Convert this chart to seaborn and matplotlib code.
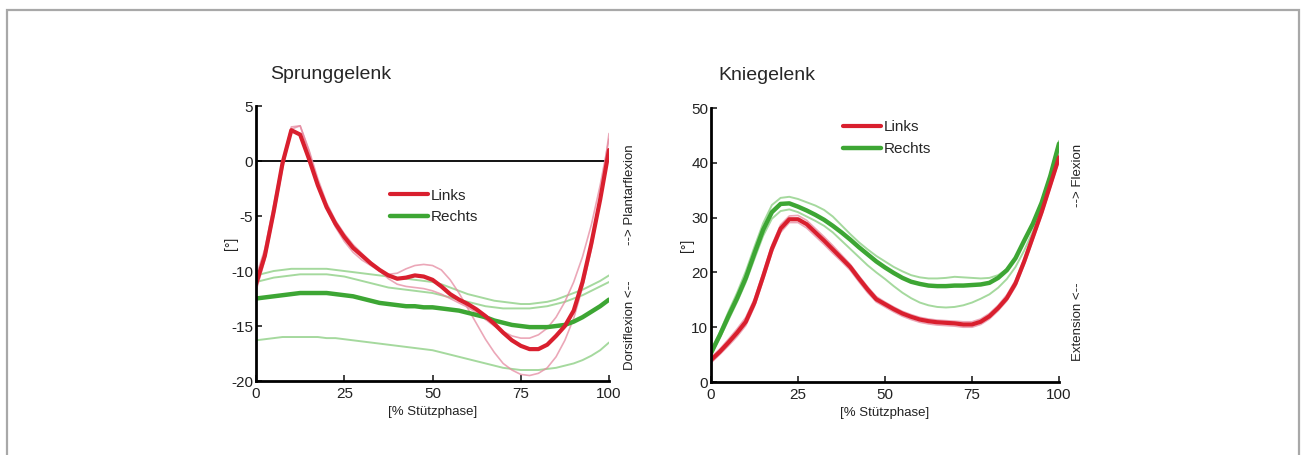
import numpy as np
import pandas as pd
import seaborn as sns
from matplotlib import pyplot as plt
from matplotlib.patches import Rectangle

# % Stuetzphase, gemeinsame x-Werte
stuetz = [0, 2.5, 5, 7.5, 10, 12.5, 15, 17.5, 20, 22.5, 25, 27.5, 30, 32.5, 35, 37.5, 40,
          42.5, 45, 47.5, 50, 52.5, 55, 57.5, 60, 62.5, 65, 67.5, 70, 72.5, 75, 77.5, 80,
          82.5, 85, 87.5, 90, 92.5, 95, 97.5, 100]

# Sprunggelenk
sp_links = [-11.2, -8.6, -4.6, -0.2, 2.8, 2.4, 0.2, -2.2, -4.2, -5.7, -6.9, -7.9, -8.6, -9.3,
            -9.9, -10.4, -10.7, -10.6, -10.4, -10.5, -10.8, -11.4, -12.1, -12.6, -13.0, -13.5,
            -14.1, -14.8, -15.6, -16.3, -16.8, -17.1, -17.1, -16.7, -15.9, -15.0, -13.6, -11.0,
            -7.5, -3.5, 1.0]
sp_links_t1 = [-11.8, -9.0, -5.0, -0.7, 2.9, 3.2, 0.9, -2.0, -4.3, -6.0, -7.3, -8.3, -9.0, -9.5,
               -10.0, -10.3, -10.2, -9.8, -9.5, -9.4, -9.5, -9.9, -10.8, -12.0, -13.4, -14.8,
               -16.2, -17.4, -18.4, -19.0, -19.4, -19.5, -19.3, -18.8, -17.8, -16.3, -14.3,
               -11.5, -8.0, -3.5, 2.5]
sp_links_t2 = [-10.5, -8.0, -4.0, 0.0, 3.1, 3.2, 1.0, -1.6, -3.8, -5.4, -6.6, -7.6, -8.4, -9.2,
               -10.0, -10.7, -11.2, -11.4, -11.5, -11.6, -11.8, -12.1, -12.5, -12.9, -13.3,
               -13.8, -14.4, -15.0, -15.5, -15.9, -16.1, -16.1, -15.8, -15.2, -14.2, -12.8,
               -11.0, -8.7, -5.8, -2.2, 2.0]
sp_rechts = [-12.5, -12.4, -12.3, -12.2, -12.1, -12.0, -12.0, -12.0, -12.0, -12.1, -12.2, -12.3,
             -12.5, -12.7, -12.9, -13.0, -13.1, -13.2, -13.2, -13.3, -13.3, -13.4, -13.5, -13.6,
             -13.8, -14.0, -14.2, -14.5, -14.7, -14.9, -15.0, -15.1, -15.1, -15.1, -15.0, -14.9,
             -14.6, -14.2, -13.7, -13.2, -12.6]
sp_rechts_t1 = [-10.4, -10.2, -10.0, -9.9, -9.8, -9.8, -9.8, -9.8, -9.8, -9.9, -10.0, -10.1,
                -10.2, -10.3, -10.4, -10.5, -10.6, -10.7, -10.8, -10.9, -11.0, -11.2, -11.5,
                -11.8, -12.1, -12.3, -12.5, -12.7, -12.8, -12.9, -13.0, -13.0, -12.9, -12.8,
                -12.6, -12.3, -12.0, -11.7, -11.3, -10.9, -10.4]
sp_rechts_t2 = [-11.0, -10.8, -10.6, -10.5, -10.4, -10.3, -10.3, -10.3, -10.3, -10.4, -10.5,
                -10.7, -10.9, -11.1, -11.3, -11.5, -11.6, -11.7, -11.8, -11.9, -12.0, -12.2,
                -12.4, -12.6, -12.8, -13.0, -13.2, -13.3, -13.4, -13.4, -13.4, -13.4, -13.3,
                -13.2, -13.0, -12.8, -12.5, -12.2, -11.8, -11.4, -11.0]
sp_rechts_t3 = [-16.3, -16.2, -16.1, -16.0, -16.0, -16.0, -16.0, -16.0, -16.1, -16.1, -16.2,
                -16.3, -16.4, -16.5, -16.6, -16.7, -16.8, -16.9, -17.0, -17.1, -17.2, -17.4,
                -17.6, -17.8, -18.0, -18.2, -18.4, -18.6, -18.8, -18.9, -19.0, -19.0, -19.0,
                -18.9, -18.8, -18.6, -18.4, -18.1, -17.7, -17.2, -16.5]

# Kniegelenk
kn_links = [4.0, 5.5, 7.2, 9.0, 11.0, 14.5, 19.3, 24.3, 28.0, 29.7, 29.7, 28.8, 27.3, 25.8, 24.2,
            22.6, 21.0, 18.9, 16.9, 15.1, 14.2, 13.3, 12.5, 11.9, 11.4, 11.1, 10.9, 10.8, 10.7,
            10.5, 10.5, 11.0, 12.0, 13.5, 15.3, 18.0, 22.0, 26.5, 31.0, 36.0, 41.0]
kn_links_t1 = [4.5, 6.0, 7.8, 9.7, 11.8, 15.2, 20.0, 25.0, 28.7, 30.3, 30.4, 29.5, 28.0, 26.5,
               24.9, 23.2, 21.5, 19.4, 17.4, 15.6, 14.6, 13.7, 12.9, 12.3, 11.8, 11.5, 11.3,
               11.2, 11.1, 11.0, 11.0, 11.5, 12.5, 14.0, 15.9, 18.6, 22.6, 27.1, 31.6, 36.6, 41.6]
kn_links_t2 = [3.5, 5.0, 6.6, 8.3, 10.3, 13.8, 18.6, 23.6, 27.3, 29.1, 29.1, 28.1, 26.6, 25.1,
               23.5, 22.0, 20.4, 18.3, 16.3, 14.6, 13.7, 12.8, 12.0, 11.4, 10.9, 10.6, 10.4,
               10.3, 10.2, 10.0, 10.0, 10.5, 11.5, 13.0, 14.8, 17.4, 21.4, 25.9, 30.4, 35.4, 40.4]
kn_rechts = [5.3, 8.5, 12.0, 15.3, 19.0, 23.5, 27.8, 31.0, 32.5, 32.6, 32.0, 31.3, 30.5, 29.6,
             28.5, 27.3, 26.0, 24.6, 23.3, 22.0, 20.9, 19.9, 19.0, 18.3, 17.9, 17.6, 17.5, 17.5,
             17.6, 17.6, 17.7, 17.8, 18.1, 19.0, 20.4, 22.6, 25.8, 28.9, 32.7, 37.6, 43.5]
kn_rechts_t1 = [5.8, 9.0, 12.8, 16.3, 20.2, 24.7, 29.0, 32.3, 33.6, 33.8, 33.4, 32.8, 32.2, 31.4,
                30.2, 28.6, 27.0, 25.5, 24.2, 23.0, 22.0, 21.0, 20.2, 19.5, 19.1, 18.9, 18.9,
                19.0, 19.2, 19.1, 19.0, 18.9, 19.0, 19.5, 20.6, 22.5, 25.5, 29.0, 33.0, 38.0, 44.0]
kn_rechts_t2 = [4.8, 8.0, 11.3, 14.6, 18.2, 22.5, 26.7, 29.8, 31.2, 31.5, 31.0, 30.2, 29.4, 28.5,
                27.3, 25.8, 24.3, 22.8, 21.3, 20.0, 18.8, 17.5, 16.3, 15.3, 14.5, 14.0, 13.7,
                13.6, 13.7, 14.0, 14.5, 15.2, 16.0, 17.2, 18.8, 21.0, 24.0, 27.5, 31.5, 36.5, 42.5]

sp_yticks = [-20, -15, -10, -5, 0, 5]
kn_yticks = [0, 10, 20, 30, 40, 50]
xticks = [0, 25, 50, 75, 100]

ROT = "#d91f2e"
GRUEN = "#3da634"
ROT_HELL = "#e58aa0"
GRUEN_HELL = "#8fd086"

sns.set_style("ticks")
plt.rcParams["font.family"] = ["Liberation Sans", "DejaVu Sans"]
plt.rcParams["axes.unicode_minus"] = False
plt.rcParams["xtick.direction"] = "in"
plt.rcParams["ytick.direction"] = "in"
plt.rcParams["lines.solid_joinstyle"] = "round"

fig = plt.figure(figsize=(13.01, 4.55), dpi=100)
fig.patches.append(Rectangle((7 / 1301, -0.2), 1292 / 1301, 1.2 - 10 / 455,
                             transform=fig.transFigure, fill=False,
                             edgecolor="#a8a8a8", linewidth=1.6))

ax1 = fig.add_axes([0.1968, 0.1626, 0.2713, 0.6044])
ax2 = fig.add_axes([0.5465, 0.1604, 0.2675, 0.6022])


def zeichne(ax, duenn_rot, duenn_gruen, links, rechts):
    for werte in duenn_gruen:
        sns.lineplot(x=stuetz, y=werte, ax=ax, color=GRUEN_HELL, lw=1.4, alpha=0.8)
    for werte in duenn_rot:
        sns.lineplot(x=stuetz, y=werte, ax=ax, color=ROT_HELL, lw=1.2, alpha=0.75)
    sns.lineplot(x=stuetz, y=rechts, ax=ax, color=GRUEN, lw=3.2, label="Rechts")
    sns.lineplot(x=stuetz, y=links, ax=ax, color=ROT, lw=3.0, label="Links")


ax1.axhline(0, color="black", lw=1.3, zorder=1)
zeichne(ax1, [sp_links_t1, sp_links_t2], [sp_rechts_t1, sp_rechts_t2, sp_rechts_t3],
        sp_links, sp_rechts)
zeichne(ax2, [kn_links_t1, kn_links_t2], [kn_rechts_t1, kn_rechts_t2],
        kn_links, kn_rechts)

ax1.set_ylim(-20, 5)
ax1.set_yticks(sp_yticks)
ax2.set_ylim(0, 50)
ax2.set_yticks(kn_yticks)

for ax in (ax1, ax2):
    ax.set_xlim(0, 100)
    ax.set_xticks(xticks)
    sns.despine(ax=ax)
    for s in ("left", "bottom"):
        ax.spines[s].set_linewidth(2)
        ax.spines[s].set_color("black")
    ax.tick_params(length=4, width=1.2, labelsize=11, colors="#222222")
    ax.tick_params(axis="x", pad=4)
    ax.tick_params(axis="y", pad=2)
    ax.set_xlabel("[% Stützphase]", fontsize=9.5, color="#222222")
    ax.xaxis.set_label_coords(0.5, -0.09)
    ax.set_ylabel("[°]", fontsize=10, color="#222222")
    h, l = ax.get_legend_handles_labels()
    order = [l.index("Links"), l.index("Rechts")]
    ax.legend([h[i] for i in order], [l[i] for i in order], frameon=False,
              fontsize=11, handlelength=2.5, handletextpad=0.15, labelspacing=0.5,
              borderpad=0, borderaxespad=0, loc="upper left",
              bbox_to_anchor=(0.38, 0.7) if ax is ax1 else (0.379, 0.955))

ax1.yaxis.set_label_coords(-0.05, 0.5)
ax2.yaxis.set_label_coords(-0.05, 0.5)

ax1.text(0.04, 1.113, "Sprunggelenk", transform=ax1.transAxes, fontsize=14, va="center")
ax2.text(0.02, 1.12, "Kniegelenk", transform=ax2.transAxes, fontsize=14, va="center")

ax1.text(1.06, 0.676, "--> Plantarflexion", transform=ax1.transAxes, rotation=90,
         ha="center", va="center", fontsize=9.5, color="#222222")
ax1.text(1.06, 0.204, "Dorsiflexion <--", transform=ax1.transAxes, rotation=90,
         ha="center", va="center", fontsize=9.5, color="#222222")
ax2.text(1.055, 0.755, "--> Flexion", transform=ax2.transAxes, rotation=90,
         ha="center", va="center", fontsize=9.5, color="#222222")
ax2.text(1.055, 0.219, "Extension <--", transform=ax2.transAxes, rotation=90,
         ha="center", va="center", fontsize=9.5, color="#222222")

fig.savefig("out.png", dpi=100)
